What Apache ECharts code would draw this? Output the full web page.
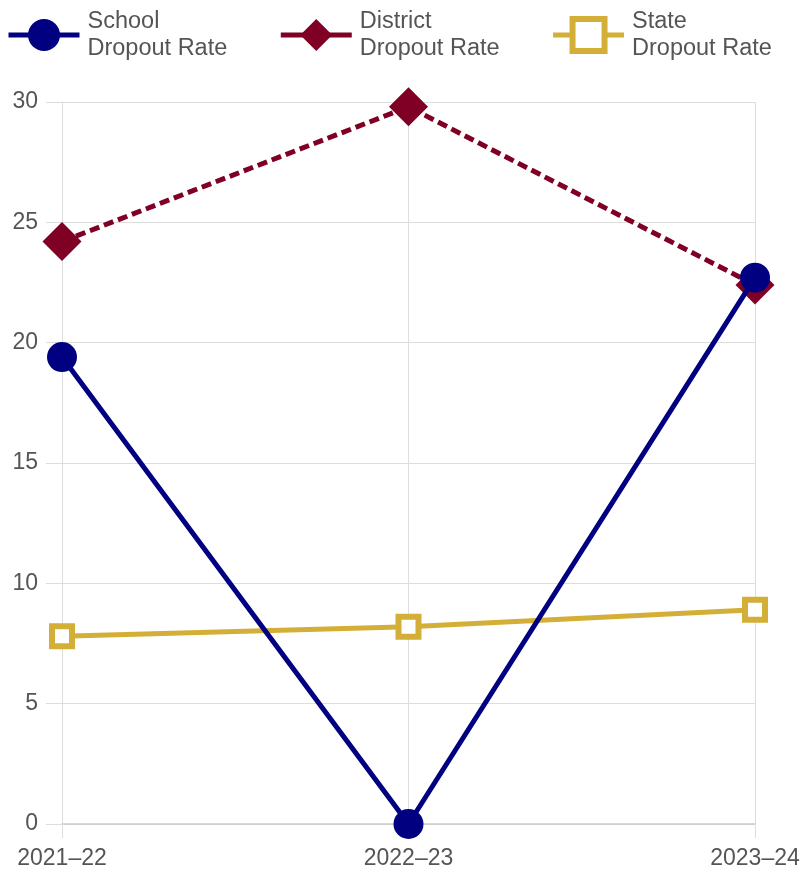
<!DOCTYPE html>
<html>
<head>
<meta charset="utf-8">
<script src="https://cdn.jsdelivr.net/npm/echarts@6/dist/echarts.min.js"></script>
<style>html,body{margin:0;padding:0;background:#fff}#c{width:804px;height:879px}</style>
</head>
<body>
<div id="c"></div>
<script>
const categories = ['2021\u201322', '2022\u201323', '2023\u201324'];
const schoolRate = [19.4, 0, 22.7];
const districtRate = [24.2, 29.8, 22.4];
const stateRate = [7.8, 8.2, 8.9];
const yTicks = { min: 0, max: 30, interval: 5 };
const legendNames = ['School\nDropout Rate', 'District\nDropout Rate', 'State\nDropout Rate'];

const chart = echarts.init(document.getElementById('c'));
const font = 'Liberation Sans, Arial, Helvetica, sans-serif';
chart.setOption({
  animation: false,
  textStyle: { fontFamily: font },
  legend: {
    left: 3, top: 3, padding: [5, 5, 5, 3],
    itemWidth: 71, itemHeight: 40, itemGap: 51,
    lineStyle: { width: 5, type: 'solid' },
    textStyle: { fontSize: 23.5, color: '#555', lineHeight: 27, fontFamily: font, padding: [0, 0, 0, 3] },
    data: [
      { name: legendNames[0] },
      { name: legendNames[1] },
      { name: legendNames[2], itemStyle: { borderWidth: 6 } }
    ]
  },
  grid: { left: 62, right: 49, top: 102, bottom: 55, containLabel: false },
  xAxis: {
    type: 'category', data: categories, boundaryGap: false,
    axisLine: { show: true, lineStyle: { color: '#ccc', width: 1.5 } },
    axisTick: { show: true, length: 14, lineStyle: { color: '#ddd' } },
    axisLabel: { fontSize: 23, color: '#555', margin: 23, fontFamily: font },
    splitLine: { show: true, lineStyle: { color: '#ddd', width: 1 } }
  },
  yAxis: {
    type: 'value', min: yTicks.min, max: yTicks.max, interval: yTicks.interval,
    axisLine: { show: true, lineStyle: { color: '#ddd', width: 1 } },
    axisTick: { show: true, length: 16, lineStyle: { color: '#ddd' } },
    axisLabel: { fontSize: 23, color: '#555', margin: 24, fontFamily: font },
    splitLine: { show: true, lineStyle: { color: '#ddd', width: 1 } }
  },
  series: [
    {
      name: legendNames[0], type: 'line', data: schoolRate,
      symbol: 'circle', symbolSize: 30, z: 4,
      lineStyle: { color: '#000080', width: 5 },
      itemStyle: { color: '#000080' }
    },
    {
      name: legendNames[1], type: 'line', data: districtRate,
      symbol: 'diamond', symbolSize: 39, z: 3,
      lineStyle: { color: '#800025', width: 5, type: [10, 5] },
      itemStyle: { color: '#800025' }
    },
    {
      name: legendNames[2], type: 'line', data: stateRate,
      symbol: 'rect', symbolSize: 20, z: 2,
      lineStyle: { color: '#d4af37', width: 5 },
      itemStyle: { color: '#fff', borderColor: '#d4af37', borderWidth: 6 }
    }
  ]
});
</script>
</body>
</html>
